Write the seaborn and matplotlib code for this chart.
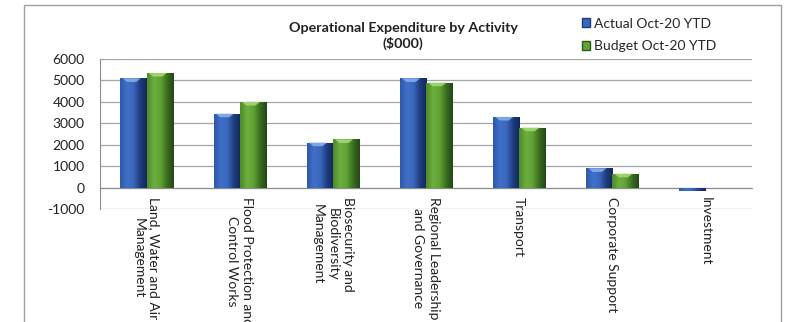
import numpy as np
import pandas as pd
import matplotlib
matplotlib.use("Agg")
import matplotlib.pyplot as plt
from matplotlib.colors import LinearSegmentedColormap
from matplotlib.patches import Rectangle, Polygon
import seaborn as sns

activities = [
    "Land, Water and Air\nManagement",
    "Flood Protection and\nControl Works",
    "Biosecurity and\nBiodiversity\nManagement",
    "Regional Leadership\nand Governance",
    "Transport",
    "Corporate Support",
    "Investment",
]
actual = [5100, 3450, 2100, 5100, 3300, 900, -150]
budget = [5350, 4000, 2250, 4900, 2800, 650, 0]
series_names = ["Actual Oct-20 YTD", "Budget Oct-20 YTD"]
y_ticks = [-1000, 0, 1000, 2000, 3000, 4000, 5000, 6000]

blue = "#3A67BD"
green = "#62A336"

sns.set_style("white")
plt.rcParams["font.family"] = ["Lato", "DejaVu Sans"]

df = pd.DataFrame({
    "activity": activities * 2,
    "value": actual + budget,
    "series": [series_names[0]] * len(activities) + [series_names[1]] * len(activities),
})

fig = plt.figure(figsize=(7.91, 3.22), dpi=100)
ax = fig.add_axes([100 / 791, 1 - 209 / 322, 652 / 791, 150 / 322])

sns.barplot(data=df, x="activity", y="value", hue="series", hue_order=series_names,
            palette=[blue, green], width=0.56, gap=0, saturation=1, ax=ax,
            edgecolor="none", linewidth=0, zorder=3)

ax.set_yticks(y_ticks)
ax.set_yticklabels([str(v) for v in y_ticks], fontsize=10, color="#222222")
ax.yaxis.grid(True, color="#A6A6A6", linewidth=0.9, zorder=0)
ax.set_axisbelow(True)
ax.set_xlabel("")
ax.set_ylabel("")

for s in ["top", "right"]:
    ax.spines[s].set_visible(False)
ax.spines["left"].set_color("#8C8C8C")
ax.spines["bottom"].set_color("#8C8C8C")
ax.spines["bottom"].set_position(("data", 0))
ax.spines["bottom"].set_zorder(2)
ax.tick_params(axis="y", length=3, color="#8C8C8C", pad=8)

# category labels hang from the zero line, ticks sit between groups
ax.set_xticks(range(len(activities)))
ax.set_xticklabels(activities, rotation=270, ha="center", va="top",
                   multialignment="center", fontsize=10, color="#222222")
for lab in ax.get_xticklabels():
    lab.set_linespacing(1.3)
ax.tick_params(axis="x", which="major", length=0, pad=7)
ax.set_xticks(np.arange(0.5, len(activities), 1.0), minor=True)
ax.tick_params(axis="x", which="minor", length=4, color="#8C8C8C", direction="out")

# bevelled shading on each bar
shade = {
    blue: LinearSegmentedColormap.from_list("b", ["#2D58A8", "#4070C8", "#3A67BD", "#1E3C7E", "#14285A"]),
    green: LinearSegmentedColormap.from_list("g", ["#4E8A2A", "#6CAE3E", "#62A336", "#3A6E1E", "#23461A"]),
}
light_top = {blue: "#86AEEA", green: "#A2D872"}
grad = np.linspace(0, 1, 64).reshape(1, -1)
for bar in list(ax.patches):
    h = bar.get_height()
    if h == 0:
        continue
    fc = matplotlib.colors.to_hex(bar.get_facecolor())
    key = blue if abs(int(fc[1:3], 16) - int(blue[1:3], 16)) < 10 else green
    x0, y0 = bar.get_x(), bar.get_y()
    w = bar.get_width()
    ylo, yhi = min(y0, y0 + h), max(y0, y0 + h)
    im = ax.imshow(grad, extent=(x0, x0 + w, ylo, yhi), aspect="auto",
                   cmap=shade[key], zorder=4, interpolation="bicubic")
    im.set_clip_path(bar)
    if h > 0:
        top_h = min(170, h)
        ax.add_patch(Polygon([(x0 + w * 0.08, yhi), (x0 + w * 0.78, yhi),
                              (x0 + w * 0.6, yhi - top_h), (x0 + w * 0.25, yhi - top_h)],
                             closed=True, facecolor=light_top[key], edgecolor="none",
                             zorder=5, alpha=0.9))
ax.set_ylim(-1000, 6000)
ax.set_xlim(-0.5, len(activities) - 0.5)

ax.legend_.remove()
handles = [Rectangle((0, 0), 1, 1, facecolor=c, edgecolor="#1E3C7E" if c == blue else "#2E5A1A")
           for c in (blue, green)]
fig.legend(handles, series_names, loc="upper left", bbox_to_anchor=(572 / 791, 1 - 8 / 322),
           frameon=False, fontsize=10, handlelength=0.6, handleheight=0.6,
           handletextpad=0.3, labelspacing=0.75, borderpad=0.2)

fig.text(403 / 791, 1 - 36 / 322, "Operational Expenditure by Activity\n($000)",
         ha="center", va="center", fontsize=10.3, fontweight="bold",
         linespacing=1.35, color="#222222")

# chart frame
fig.add_artist(Rectangle((24 / 791, -0.2), (781 - 24) / 791, 1.2 - 5 / 322,
                         transform=fig.transFigure, fill=False,
                         edgecolor="#A0A0A0", linewidth=1.0))

fig.savefig("out.png", dpi=100)
